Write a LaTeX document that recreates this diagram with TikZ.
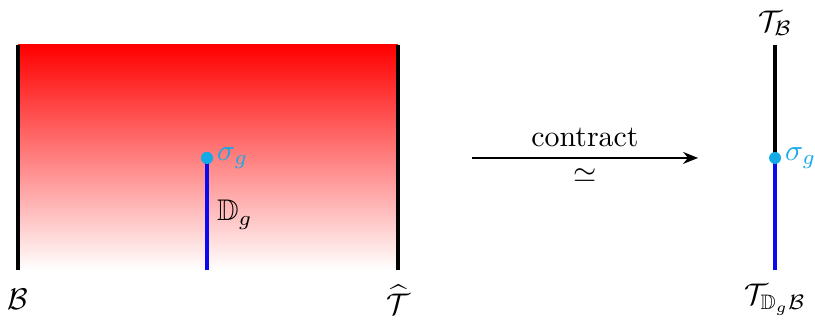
\documentclass[tikz,border=0pt]{standalone}
\usepackage{amsmath}
\usepackage{amssymb}
\usetikzlibrary{arrows.meta, positioning}
\definecolor{dotcyan}{RGB}{20, 170, 230}
\definecolor{lineblue}{RGB}{10, 10, 240}

\begin{document}
\begin{tikzpicture}[
  wall/.style={line width=1.2pt, black},
  defect/.style={line width=1.2pt, lineblue},
  pt/.style={circle, fill=dotcyan, inner sep=0pt, minimum size=4pt},
  siglab/.style={right=1pt of #1, inner sep=0pt, text=dotcyan},
]
  \useasboundingbox (-0.212,-0.624) rectangle (9.376,3.176);
  \shade[top color=red, bottom color=white] (0,0) rectangle (4.47,2.647);

  \coordinate (bl) at (0,0);
  \coordinate (tl) at (0,2.647);
  \coordinate (br) at (4.47,0);
  \coordinate (tr) at (4.47,2.647);
  \coordinate (dbot) at (2.224,0);
  \coordinate (rtop) at (8.906,2.647);
  \coordinate (rbot) at (8.906,0);

  \draw[wall] (bl) -- (tl);
  \draw[wall] (br) -- (tr);
  \node[pt] (sig) at (2.224,1.318) {};
  \draw[defect] (dbot) -- (sig.center);
  \node[pt] (sig) at (2.224,1.318) {};
  \node[siglab=sig] {$\sigma_g$};
  \node at (2.55,0.65) {$\mathbb{D}_g$};
  \node (B) at (0,-0.35) {$\mathcal{B}$};
  \node (That) at (4.47,-0.35) {$\widehat{\mathcal{T}}$};

  \coordinate (a1) at (5.34,1.318);
  \coordinate (a2) at (8.0,1.318);
  \draw[-{Stealth[length=5pt,width=4pt]}, semithick] (a1) -- (a2)
    node[midway, above] {contract} node[midway, below] {$\simeq$};

  \draw[wall] (rtop) -- (8.906,1.318);
  \draw[defect] (rbot) -- (8.906,1.318);
  \node[pt] (rsig) at (8.906,1.318) {};
  \node[siglab=rsig] {$\sigma_g$};
  \node (TB) at (8.906,2.9) {$\mathcal{T}_{\mathcal{B}}$};
  \node (TDB) at (8.906,-0.35) {$\mathcal{T}_{\mathbb{D}_g\mathcal{B}}$};
\end{tikzpicture}
\end{document}
